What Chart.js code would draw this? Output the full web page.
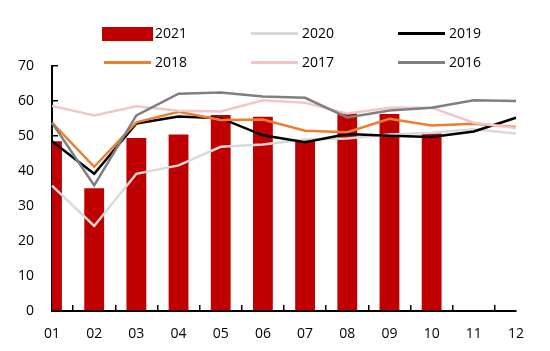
<!DOCTYPE html>
<html>
<head>
<meta charset="utf-8">
<script src="https://cdn.jsdelivr.net/npm/chart.js@4/dist/chart.umd.min.js"></script>
<style>
  html, body { margin: 0; padding: 0; background: #fff; }
  #wrap { position: relative; width: 550px; height: 351px; }
  #legend { position: absolute; left: 0; top: 0; width: 550px; height: 80px;
            font-family: 'Open Sans', sans-serif; font-size: 14px; color: #000; }
  .item { position: absolute; height: 20px; line-height: 20px; white-space: nowrap; }
  .swatch { position: absolute; left: 0; }
  .txt { position: absolute; left: 53px; top: 0; }
</style>
</head>
<body>
<div id="wrap">
  <canvas id="myChart" width="550" height="351"></canvas>
  <div id="legend"></div>
</div>
<script>
var months = ["01", "02", "03", "04", "05", "06", "07", "08", "09", "10", "11", "12"];

var y2021 = [48.5, 35.1, 49.4, 50.4, 56.0, 55.5, 49.0, 56.4, 56.3, 50.7, null, null];
var y2020 = [35.8, 24.3, 39.2, 41.6, 46.9, 47.6, 49.0, 49.3, 50.4, 50.9, 51.9, 50.7];
var y2019 = [48.5, 39.2, 53.6, 55.6, 55.1, 50.2, 48.2, 50.6, 50.1, 49.7, 51.3, 55.2];
var y2018 = [53.8, 41.2, 53.9, 56.9, 54.6, 54.7, 51.5, 51.1, 54.9, 53.0, 53.5, 52.6];
var y2017 = [58.6, 55.9, 58.5, 57.2, 57.0, 60.2, 59.5, 56.4, 58.1, 58.1, 53.8, 52.3];
var y2016 = [53.8, 35.9, 55.9, 62.1, 62.4, 61.3, 60.9, 55.3, 57.3, 58.1, 60.2, 60.0];

var yTicks = [0, 10, 20, 30, 40, 50, 60, 70];

window.onload = function() {
    var ctx = document.getElementById('myChart');

    function lineSet(label, data, color, order) {
        return {
            type: 'line', label: label, data: data,
            borderColor: color, backgroundColor: color,
            borderWidth: 2.5, pointRadius: 0, tension: 0, order: order
        };
    }

    var myChart = new Chart(ctx, {
        type: 'bar',
        data: {
            labels: months,
            datasets: [
                { label: '2021', data: y2021, backgroundColor: '#C00000',
                  barPercentage: 1, categoryPercentage: 0.47,
                  clip: { left: 0, top: false, right: false, bottom: false }, order: 6 },
                lineSet('2020', y2020, '#D9D9D9', 5),
                lineSet('2019', y2019, '#000000', 4),
                lineSet('2018', y2018, '#ED7D31', 3),
                lineSet('2017', y2017, '#F2C6C6', 2),
                lineSet('2016', y2016, '#7F7F7F', 1)
            ]
        },
        options: {
            responsive: false,
            animation: false,
            layout: { padding: { top: 66, right: 34, left: 0, bottom: 0 } },
            plugins: {
                legend: { display: false },
                tooltip: { enabled: false }
            },
            scales: {
                x: {
                    offset: false,
                    grid: { display: true, drawOnChartArea: false, drawTicks: true,
                            tickLength: -6, color: '#000', lineWidth: 1.5 },
                    border: { display: true, color: '#000', width: 2 },
                    ticks: { color: '#000', padding: 21, maxRotation: 0,
                             font: { family: "'Open Sans', sans-serif", size: 14 } },
                    afterFit: function(scale) { scale.height = 40; }
                },
                y: {
                    min: 0, max: 70,
                    afterBuildTicks: function(scale) {
                        scale.ticks = yTicks.map(function(v) { return { value: v }; });
                    },
                    grid: { display: true, drawOnChartArea: false, drawTicks: true,
                            tickLength: -6, color: '#000', lineWidth: 1.5 },
                    border: { display: true, color: '#000', width: 2 },
                    ticks: { color: '#000', padding: 24,
                             font: { family: "'Open Sans', sans-serif", size: 14 } },
                    afterFit: function(scale) { scale.width = 52; }
                }
            }
        }
    });

    buildLegend(myChart);
};

// html legend, 3 per row like the original
function buildLegend(chart) {
    var box = document.getElementById('legend');
    var sets = chart.data.datasets;
    for (var i = 0; i < sets.length; i++) {
        var ds = sets[i];
        var col = i % 3, row = Math.floor(i / 3);
        var item = document.createElement('div');
        item.className = 'item';
        item.style.left = (102 + col * 147) + 'px';
        item.style.top = (23 + row * 29) + 'px';

        var sw = document.createElement('div');
        sw.className = 'swatch';
        if (ds.type === 'line') {
            sw.style.width = '47px';
            sw.style.height = '3px';
            sw.style.top = '9px';
            sw.style.left = '2px';
            sw.style.background = ds.borderColor;
        } else {
            sw.style.width = '51px';
            sw.style.height = '14px';
            sw.style.top = '4px';
            sw.style.background = ds.backgroundColor;
        }
        item.appendChild(sw);

        var t = document.createElement('span');
        t.className = 'txt';
        t.textContent = ds.label;
        item.appendChild(t);
        box.appendChild(item);
    }
}
</script>
</body>
</html>
